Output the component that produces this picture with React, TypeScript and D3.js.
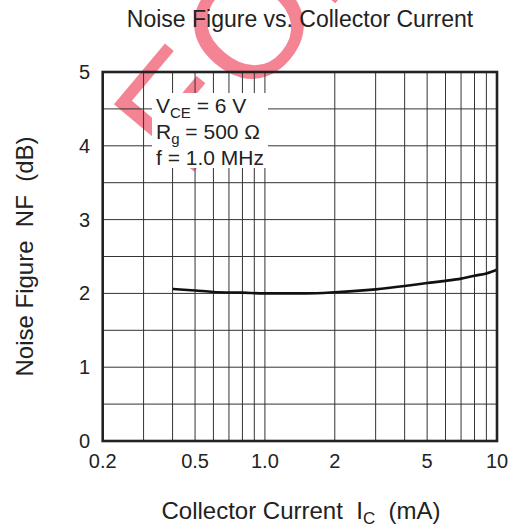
import React from "react";
import * as d3 from "d3";

// Noise figure vs. collector current (VCE = 6 V, Rg = 500 Ω, f = 1.0 MHz)
const currentMA = [0.4, 0.5, 0.6, 0.8, 1.0, 1.5, 2, 3, 4, 5, 6, 7, 8, 9, 10];
const noiseFigureDB = [2.06, 2.04, 2.02, 2.01, 2.0, 2.0, 2.015, 2.055, 2.1, 2.14, 2.17, 2.2, 2.24, 2.27, 2.32];

const xTickValues = [0.2, 0.5, 1.0, 2, 5, 10];
const xTickLabels = ["0.2", "0.5", "1.0", "2", "5", "10"];
const yTickValues = [0, 1, 2, 3, 4, 5];
const xGridValues = [0.3, 0.4, 0.5, 0.6, 0.7, 0.8, 0.9, 1, 2, 3, 4, 5, 6, 7, 8, 9];
const yGridValues = [0.5, 1, 1.5, 2, 2.5, 3, 3.5, 4, 4.5];

const W = 511;
const H = 529;
const M = { left: 102.7, right: 497, top: 72, bottom: 441 };
const FONT = "'Liberation Sans', Arial, Helvetica, sans-serif";
const INK = "#222";

export default function App() {
  const x = d3.scaleLog().domain([0.2, 10]).range([M.left, M.right]);
  const y = d3.scaleLinear().domain([0, 5]).range([M.bottom, M.top]);

  const pts: [number, number][] = currentMA.map((c, i) => [c, noiseFigureDB[i]]);
  const line = d3
    .line<[number, number]>()
    .x((d) => x(d[0]))
    .y((d) => y(d[1]))
    .curve(d3.curveMonotoneX);

  // white panel behind the condition notes
  const note = { x0: 152, x1: 268, y0: 93, y1: 168 };

  return (
    <svg
      width={W}
      height={H}
      viewBox={`0 0 ${W} ${H}`}
      style={{ position: "absolute", left: 0, top: 0, background: "#fff" }}
      fontFamily={FONT}
    >
      <rect x={0} y={0} width={W} height={H} fill="#fff" />

      {/* watermark */}
      <text
        transform="translate(186,181) rotate(-50)"
        fontSize={152}
        fontFamily={FONT}
        fill="#f0566a"
        opacity={0.72}
      >
        EOL
      </text>

      {/* grid */}
      <g stroke="#333" strokeWidth={1}>
        {xGridValues.map((v) => (
          <line key={"gx" + v} x1={x(v)} x2={x(v)} y1={M.top} y2={M.bottom} />
        ))}
        {yGridValues.map((v) => (
          <line key={"gy" + v} x1={M.left} x2={M.right} y1={y(v)} y2={y(v)} />
        ))}
      </g>

      <rect x={note.x0} y={note.y0} width={note.x1 - note.x0} height={note.y1 - note.y0} fill="#fff" />

      {/* curve */}
      <path d={line(pts) || ""} fill="none" stroke="#111" strokeWidth={2.6} />

      {/* frame */}
      <rect
        x={M.left}
        y={M.top}
        width={M.right - M.left}
        height={M.bottom - M.top}
        fill="none"
        stroke="#222"
        strokeWidth={2.6}
      />

      {/* condition notes */}
      <g fill={INK} fontSize={21}>
        <text x={156} y={113}>
          V<tspan fontSize={15} dy={5}>CE</tspan>
          <tspan dy={-5}> = 6 V</tspan>
        </text>
        <text x={156} y={139}>
          R<tspan fontSize={15} dy={5}>g</tspan>
          <tspan dy={-5}> = 500 Ω</tspan>
        </text>
        <text x={156} y={164.5}>f = 1.0 MHz</text>
      </g>

      {/* x tick labels */}
      <g fill={INK} fontSize={20} textAnchor="middle">
        {xTickValues.map((v, i) => (
          <text key={"xt" + v} x={x(v)} y={468}>
            {xTickLabels[i]}
          </text>
        ))}
      </g>

      {/* y tick labels */}
      <g fill={INK} fontSize={20} textAnchor="end">
        {yTickValues.map((v) => (
          <text key={"yt" + v} x={90} y={y(v) + 7}>
            {v}
          </text>
        ))}
      </g>

      {/* title */}
      <text x={300} y={27} textAnchor="middle" fontSize={23} fill={INK}>
        Noise Figure vs. Collector Current
      </text>

      {/* x axis label */}
      <text x={301} y={519} textAnchor="middle" fontSize={24} fill={INK} style={{ whiteSpace: "pre" }}>
        {"Collector Current  I"}
        <tspan fontSize={17} dy={5}>C</tspan>
        <tspan dy={-5}>{"  (mA)"}</tspan>
      </text>

      {/* y axis label */}
      <text
        transform={`translate(32.5,${(M.top + M.bottom) / 2}) rotate(-90)`}
        textAnchor="middle"
        fontSize={24}
        fill={INK}
        style={{ whiteSpace: "pre" }}
      >
        {"Noise Figure  NF  (dB)"}
      </text>
    </svg>
  );
}
